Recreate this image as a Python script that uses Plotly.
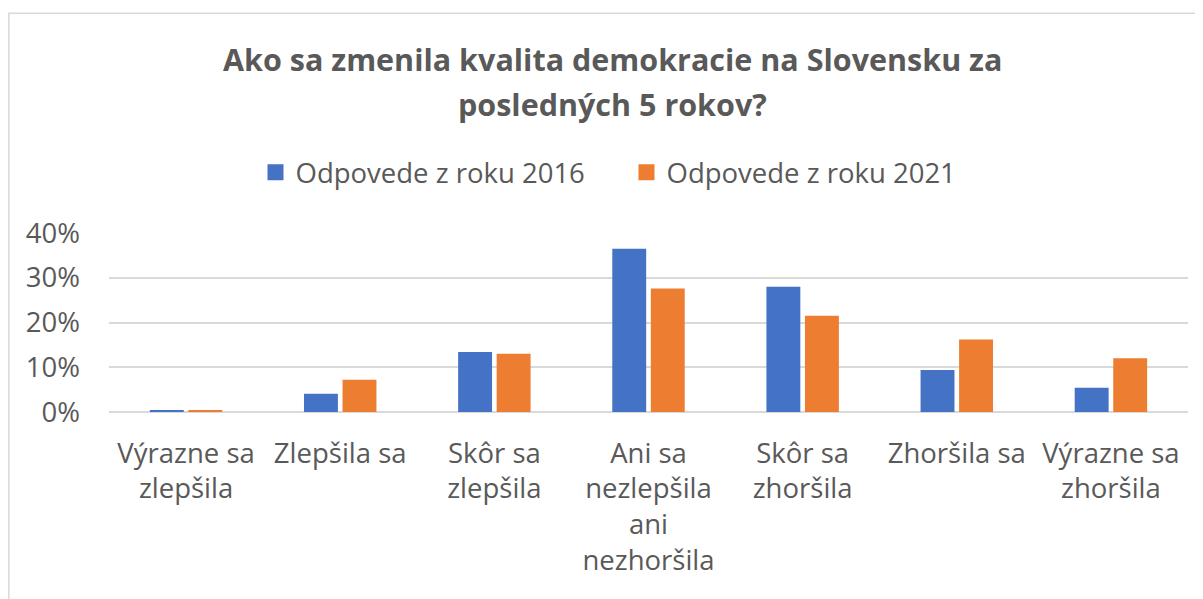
import plotly.graph_objects as go

categories = [
    "Výrazne sa<br>zlepšila",
    "Zlepšila sa",
    "Skôr sa<br>zlepšila",
    "Ani sa<br>nezlepšila<br>ani<br>nezhoršila",
    "Skôr sa<br>zhoršila",
    "Zhoršila sa",
    "Výrazne sa<br>zhoršila",
]
values_2016 = [0.003, 0.041, 0.134, 0.365, 0.280, 0.094, 0.054]
values_2021 = [0.004, 0.072, 0.130, 0.276, 0.215, 0.162, 0.120]
series_names = ["Odpovede z roku 2016", "Odpovede z roku 2021"]
series_colors = ["#4472C4", "#ED7D31"]
tick_vals = [0, 0.1, 0.2, 0.3, 0.4]
tick_text = ["0%", "10%", "20%", "30%", "40%"]
title_lines = ["Ako sa zmenila kvalita demokracie na Slovensku za", "posledných 5 rokov?"]

FONT = "Open Sans"
GRAY = "#595959"
FS = 27.5

fig = go.Figure()
for vals, name, col in zip([values_2016, values_2021], series_names, series_colors):
    fig.add_trace(go.Bar(x=categories, y=vals, name=name, showlegend=False,
                         marker=dict(color=col, line=dict(width=0))))
for name, col in zip(series_names, series_colors):
    fig.add_trace(go.Scatter(x=[None], y=[None], mode="markers", name=name,
                             marker=dict(symbol="square", size=18, color=col)))

annotations = []
for txt, yy in zip(title_lines, [1.97, 1.719]):
    annotations.append(dict(text="<b>" + txt + "</b>", xref="paper", yref="paper",
                            x=0.4666, y=yy, xanchor="center", yanchor="middle",
                            showarrow=False, font=dict(family=FONT, size=30.5, color=GRAY)))

fig.update_layout(
    width=1195, height=591,
    paper_bgcolor="white", plot_bgcolor="white",
    margin=dict(l=101, r=15, t=225, b=187),
    barmode="group", bargap=0.5, bargroupgap=0.12,
    font=dict(family=FONT, color=GRAY, size=FS),
    annotations=annotations,
    legend=dict(orientation="h", x=0.4796, xanchor="center", y=1.338, yanchor="middle",
                yref="paper", font=dict(size=FS, color=GRAY), traceorder="normal",
                itemwidth=30, entrywidthmode="pixels", entrywidth=326,
                bgcolor="rgba(0,0,0,0)"),
    showlegend=True,
    shapes=[dict(type="rect", xref="paper", yref="paper", x0=-0.0928, x1=1.05, y0=-1.2, y1=2.228,
                 line=dict(color="#d9d9d9", width=1.5), fillcolor="rgba(0,0,0,0)", layer="below")],
)
fig.update_xaxes(showgrid=False, showline=False, ticks="", tickfont=dict(size=FS, color=GRAY),
                 tickangle=0, automargin=False, ticklabelstandoff=22)
fig.update_yaxes(range=[0, 0.4], tickvals=tick_vals, ticktext=tick_text,
                 showgrid=True, gridcolor="#d9d9d9", gridwidth=1.5,
                 zeroline=True, zerolinecolor="#d9d9d9", zerolinewidth=1.5,
                 showline=False, ticks="", tickfont=dict(size=FS, color=GRAY),
                 ticklabelstandoff=28, automargin=False)

fig.write_html("out.html")
